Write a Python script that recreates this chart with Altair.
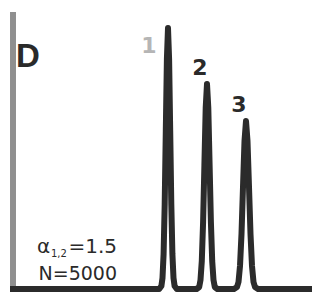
import altair as alt
import pandas as pd

# chromatogram trace (time units, detector response)
trace_x = [2,
           151.2, 153.4, 154.5, 155.6, 156.7, 157.8, 158.9, 160, 161.1, 162.2, 163.3, 164.4, 165.5, 166.6, 168.8,
           188.6, 191.2, 192.5, 193.8, 195.1, 196.4, 197.7, 199, 200.3, 201.6, 202.9, 204.2, 205.5, 206.8, 209.4,
           226, 229, 230.5, 232, 233.5, 235, 236.5, 238, 239.5, 241, 242.5, 244, 245.5, 247, 250,
           304]
trace_y = [0,
           0, 3, 11, 35, 85, 158, 230, 261, 230, 158, 85, 35, 11, 3, 0,
           0, 2, 9, 28, 67, 124, 181, 205, 181, 124, 67, 28, 9, 2, 0,
           0, 2, 7, 23, 55, 102, 148, 168, 148, 102, 55, 23, 7, 2, 0,
           0]

peak_labels = ["1", "2", "3"]
peak_x = [160, 199, 238]
peak_y = [261, 205, 168]

panel_label = "D"
alpha_sym = "α"
alpha_sub = "1,2"
alpha_val = "=1.5"
n_text = "N=5000"

trace = pd.DataFrame({"t": trace_x, "s": trace_y})
peaks = pd.DataFrame({"label": peak_labels, "t": peak_x, "s": peak_y})

xs = alt.Scale(domain=[0, 304], nice=False, zero=False)
ys = alt.Scale(domain=[-3, 281], nice=False, zero=False)

line = alt.Chart(trace).mark_line(color="#2b2b2b", strokeWidth=6, strokeJoin="round").encode(
    x=alt.X("t:Q", scale=xs, axis=None),
    y=alt.Y("s:Q", scale=ys, axis=None),
    order="t:Q",
)

yaxis = alt.Chart(trace).mark_rule(color="#8f8f8f", strokeWidth=5).encode(
    x=alt.value(5), y=alt.value(4), y2=alt.value(284)
)

lab1 = alt.Chart(peaks[peaks.label == "1"]).mark_text(
    font="DejaVu Sans", fontWeight="bold", fontSize=22, color="#b5b5b5",
    baseline="alphabetic", align="center", dx=-19, dy=25,
).encode(x=alt.X("t:Q", scale=xs), y=alt.Y("s:Q", scale=ys), text="label:N")

lab23 = alt.Chart(peaks[peaks.label != "1"]).mark_text(
    font="DejaVu Sans", fontWeight="bold", fontSize=22, color="#2a2a2a",
    baseline="alphabetic", align="center", dx=-7, dy=-9,
).encode(x=alt.X("t:Q", scale=xs), y=alt.Y("s:Q", scale=ys), text="label:N")

def txt(s, x, y, size, font="DejaVu Sans", weight="normal", align="left", color="#2a2a2a"):
    return alt.Chart(pd.DataFrame({"v": [s]})).mark_text(
        font=font, fontWeight=weight, fontSize=size, color=color,
        baseline="alphabetic", align=align,
    ).encode(x=alt.value(x), y=alt.value(y), text="v:N")

texts = [
    txt(panel_label, 8, 59, 33, font="Liberation Sans", weight="bold"),
    txt(alpha_sym, 29, 245, 20),
    txt(alpha_sub, 43, 249, 10),
    txt(alpha_val, 109, 245, 20, align="right"),
    txt(n_text, 109, 272, 19, align="right"),
]

chart = alt.layer(yaxis, line, lab1, lab23, *texts).properties(
    width=304, height=284, autosize=alt.AutoSizeParams(type="none"),
    padding={"left": 0, "top": 0, "right": 0, "bottom": 0},
).configure_view(stroke=None)

chart.save("out.html", embed_options={"renderer": "svg", "actions": False})
